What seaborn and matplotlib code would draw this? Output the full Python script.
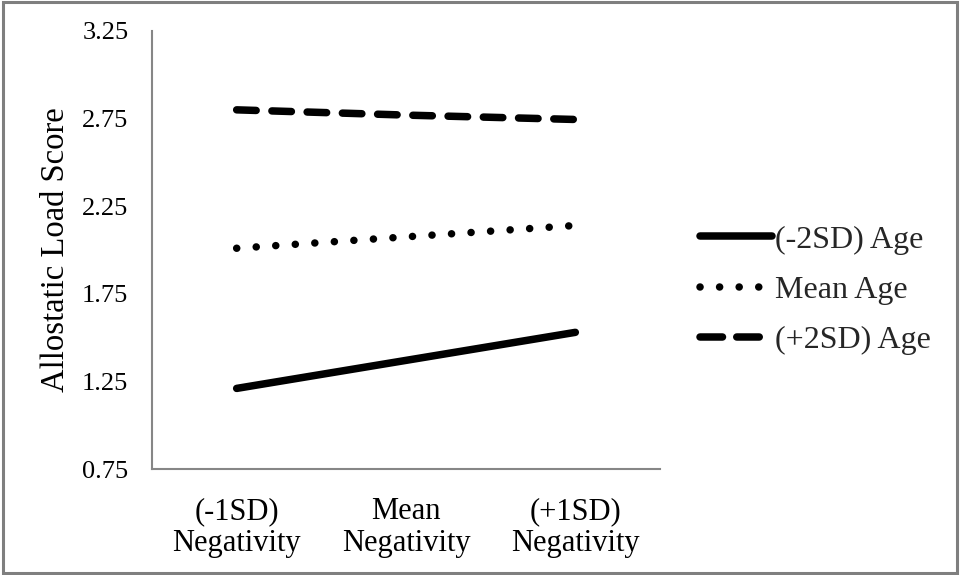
import matplotlib
matplotlib.use("Agg")
import matplotlib.pyplot as plt
import seaborn as sns
import pandas as pd
from matplotlib.patches import Rectangle

# ---- data ----
categories = ["(-1SD)\nNegativity", "Mean\nNegativity", "(+1SD)\nNegativity"]
series_names = ["(-2SD) Age", "Mean Age", "(+2SD) Age"]
low_age = [1.21, 1.37, 1.53]
mean_age = [2.01, 2.075, 2.14]
high_age = [2.80, 2.77, 2.745]
y_ticks = [0.75, 1.25, 1.75, 2.25, 2.75, 3.25]
y_label = "Allostatic Load Score"

sns.set_style("white")
plt.rcParams["font.family"] = ["Liberation Serif", "DejaVu Serif"]
plt.rcParams["lines.solid_capstyle"] = "round"
plt.rcParams["lines.dash_capstyle"] = "round"

rows = []
for name, vals in zip(series_names, [low_age, mean_age, high_age]):
    for i, v in enumerate(vals):
        rows.append({"pos": i, "score": v, "age": name})
df = pd.DataFrame(rows)

fig = plt.figure(figsize=(9.64, 5.75), dpi=100)
ax = fig.add_axes([152 / 964, 1 - 469 / 575, 508 / 964, 438 / 575])

dash_map = {series_names[0]: "", series_names[1]: (0.01, 2.6), series_names[2]: (2.6, 2.1)}
sns.lineplot(data=df, x="pos", y="score", hue="age", style="age",
             hue_order=series_names, style_order=series_names,
             palette={n: "black" for n in series_names}, dashes=dash_map,
             linewidth=5.4, ax=ax, legend=True)

ax.set_xlim(-0.5, 2.5)
ax.set_ylim(y_ticks[0], y_ticks[-1])
ax.set_yticks(y_ticks)
ax.set_yticklabels([f"{t:.2f}" for t in y_ticks])
ax.set_xticks([-0.5, 0.5, 1.5, 2.5])
ax.set_xticklabels([])
ax.set_xticks([0, 1, 2], minor=True)
ax.set_xticklabels(categories, minor=True, fontsize=22, linespacing=1.15)
ax.tick_params(axis="x", which="minor", length=0, pad=20, colors="black")
ax.tick_params(axis="x", which="major", length=7, width=1.3, color="#868686", direction="out")
ax.tick_params(axis="y", length=7, width=1.3, color="#868686", direction="out",
               labelsize=19, pad=10, labelcolor="black")
ax.set_xlabel("")
ax.set_ylabel(y_label, fontsize=23.5, color="black")
ax.yaxis.set_label_coords(-0.16, 0.5)

for s in ["top", "right"]:
    ax.spines[s].set_visible(False)
for s in ["left", "bottom"]:
    ax.spines[s].set_color("#868686")
    ax.spines[s].set_linewidth(1.5)
ax.grid(False)

handles, labels = ax.get_legend_handles_labels()
leg = ax.legend(handles, labels, loc="center left", bbox_to_anchor=(700 / 964, 1 - 290 / 575),
                bbox_transform=fig.transFigure, frameon=False, fontsize=23,
                handlelength=2.25, handletextpad=0.1, labelspacing=0.65,
                borderpad=0, borderaxespad=0)
leg.get_lines()[2].set_dashes((3.0, 1.9))

fig.patches.append(Rectangle((2.5 / 964, 1 - 573 / 575), (957 - 2.5) / 964, (573 - 1.5) / 575,
                             transform=fig.transFigure, fill=False,
                             edgecolor="#7f7f7f", linewidth=2.2))

fig.savefig("out.png", dpi=100)
